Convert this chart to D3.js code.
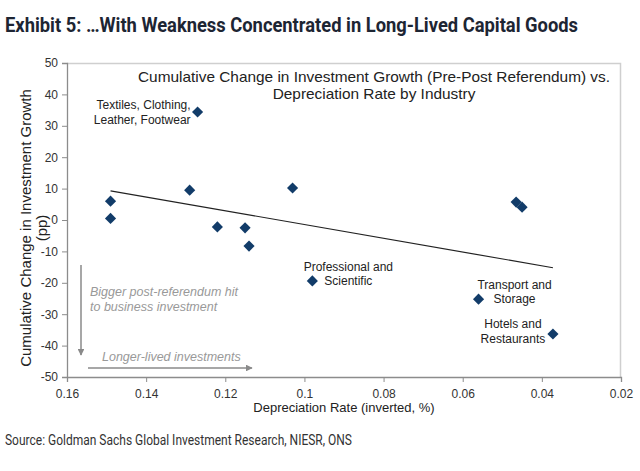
<!DOCTYPE html>
<html>
<head>
<meta charset="utf-8">
<script src="https://cdn.jsdelivr.net/npm/d3@7"></script>
<style>
  body { margin: 0; background: #fff; }
  svg { display: block; }
</style>
</head>
<body>
<div id="chart"></div>
<script>
var width = 640;
var height = 471;

// data
var rates = [0.149, 0.149, 0.129, 0.127, 0.122, 0.115, 0.114, 0.103, 0.098, 0.0465, 0.045, 0.056, 0.0372];
var changes = [6.0, 0.5, 9.5, 34.4, -2.2, -2.5, -8.3, 10.2, -19.4, 5.7, 4.1, -25.2, -36.3];
var trendRates = [0.149, 0.0372];
var trendChanges = [9.3, -15.2];
var xTicks = [0.16, 0.14, 0.12, 0.1, 0.08, 0.06, 0.04, 0.02];
var yTicks = [50, 40, 30, 20, 10, 0, -10, -20, -30, -40, -50];

// labelled points: index into arrays, text lines
var labelIdx = [3, 8, 11, 12];
var labelText = [
    ['Textiles, Clothing,', 'Leather, Footwear'],
    ['Professional and', 'Scientific'],
    ['Transport and', 'Storage'],
    ['Hotels and', 'Restaurants']
];

var margin = { top: 63, right: 19, bottom: 94, left: 67 };
var chartWidth = width - margin.left - margin.right;
var chartHeight = height - margin.top - margin.bottom;

var svg = d3.select('#chart').append('svg')
    .attr('width', width)
    .attr('height', height);

// title and source
svg.append('text')
    .attr('x', 5)
    .attr('y', 32)
    .attr('textLength', 573)
    .attr('lengthAdjust', 'spacingAndGlyphs')
    .style('font-family', '"Liberation Sans Narrow", "Roboto", sans-serif')
    .style('font-weight', 'bold')
    .style('font-size', '20px')
    .attr('fill', '#1d2533')
    .text('Exhibit 5: \u2026With Weakness Concentrated in Long-Lived Capital Goods');

svg.append('text')
    .attr('x', 5)
    .attr('y', 445)
    .attr('textLength', 347)
    .attr('lengthAdjust', 'spacingAndGlyphs')
    .style('font-family', '"Liberation Sans Narrow", "Roboto", sans-serif')
    .style('font-size', '14px')
    .attr('fill', '#333')
    .text('Source: Goldman Sachs Global Investment Research, NIESR, ONS');

var g = svg.append('g')
    .attr('transform', `translate(${margin.left}, ${margin.top})`);

var xScale = d3.scaleLinear()
    .domain([0.16, 0.02])
    .range([0, chartWidth]);

var yScale = d3.scaleLinear()
    .domain([-50, 50])
    .range([chartHeight, 0]);

// top / right frame
g.append('path')
    .attr('d', `M0,0.5H${chartWidth - 0.5}V${chartHeight}`)
    .attr('fill', 'none')
    .attr('stroke', '#cfcfcf')
    .attr('stroke-width', 1.5);

var font = 'Arial, "Liberation Sans", sans-serif';

var xAxis_g = g.append('g')
    .attr('transform', `translate(0, ${chartHeight})`)
    .call(d3.axisBottom(xScale).tickValues(xTicks).tickFormat(d => String(+d.toFixed(2))).tickSizeOuter(0).tickSize(5));

var yAxis_g = g.append('g')
    .call(d3.axisLeft(yScale).tickValues(yTicks).tickFormat(d => String(d)).tickSizeOuter(0).tickSize(5));

[xAxis_g, yAxis_g].forEach(function (ax) {
    ax.select('.domain').attr('stroke', '#8c8c8c').attr('stroke-width', 1.3);
    ax.selectAll('.tick line').attr('stroke', '#8c8c8c');
    ax.selectAll('.tick text')
        .style('font-family', font)
        .style('font-size', '12px')
        .attr('fill', '#333');
});
xAxis_g.selectAll('.tick text').attr('dy', '1.1em');
yAxis_g.selectAll('.tick text').attr('x', -9);

// axis titles
svg.append('text')
    .attr('x', margin.left + chartWidth / 2)
    .attr('y', 412)
    .attr('text-anchor', 'middle')
    .style('font-family', font)
    .style('font-size', '13px')
    .attr('fill', '#222')
    .text('Depreciation Rate (inverted, %)');

var yTitle = svg.append('text')
    .attr('transform', `translate(31, ${margin.top + chartHeight / 2 + 8}) rotate(-90)`)
    .attr('text-anchor', 'middle')
    .style('font-family', font)
    .style('font-size', '15px')
    .attr('fill', '#222');
yTitle.append('tspan').attr('x', 0).attr('y', 0).text('Cumulative Change in Investment Growth');
yTitle.append('tspan').attr('x', 0).attr('y', 16).text('(pp)');

// chart title inside plot, glyphs widened a little like the original
var inner = g.append('text')
    .attr('transform', 'translate(307, 0) scale(1.1, 1)')
    .attr('text-anchor', 'middle')
    .style('font-family', font)
    .style('font-size', '14px')
    .attr('fill', '#222');
inner.append('tspan').attr('x', 0).attr('y', 19).text('Cumulative Change in Investment Growth (Pre-Post Referendum) vs.');
inner.append('tspan').attr('x', 0).attr('y', 36).text('Depreciation Rate by Industry');

// trend line
g.append('line')
    .attr('x1', xScale(trendRates[0]))
    .attr('y1', yScale(trendChanges[0]))
    .attr('x2', xScale(trendRates[1]))
    .attr('y2', yScale(trendChanges[1]))
    .attr('stroke', '#222')
    .attr('stroke-width', 1.2);

// points
var diamond = d3.symbol().type(d3.symbolSquare).size(62);
g.selectAll('path.pt')
    .data(rates)
    .enter()
    .append('path')
    .attr('class', 'pt')
    .attr('d', diamond)
    .attr('transform', (d, i) => `translate(${xScale(d)}, ${yScale(changes[i])}) rotate(45)`)
    .attr('fill', '#123c69');

// point labels (offset from point in px)
var labelDx = [-7, 36, 36, -40];
var labelDy = [-3, -10, -10, -6];
var labelGap = [15, 14, 14, 15];
var labelAnchor = ['end', 'middle', 'middle', 'middle'];
labelIdx.forEach(function (idx, k) {
    var t = g.append('text')
        .attr('text-anchor', labelAnchor[k])
        .style('font-family', font)
        .style('font-size', '12px')
        .attr('fill', '#222');
    var px = xScale(rates[idx]) + labelDx[k];
    var py = yScale(changes[idx]) + labelDy[k];
    labelText[k].forEach(function (line, j) {
        t.append('tspan').attr('x', px).attr('y', py + j * labelGap[k]).text(line);
    });
});

// annotation arrows
var defs = svg.append('defs');
defs.append('marker')
    .attr('id', 'arr')
    .attr('viewBox', '0 0 10 10')
    .attr('refX', 9).attr('refY', 5)
    .attr('markerWidth', 4.5).attr('markerHeight', 4.5)
    .attr('orient', 'auto')
    .append('path')
    .attr('d', 'M0,0L10,5L0,10Z')
    .attr('fill', '#8a8a8a');

g.append('line')
    .attr('x1', 14).attr('y1', 202)
    .attr('x2', 14).attr('y2', 292)
    .attr('stroke', '#8a8a8a').attr('stroke-width', 1.5)
    .attr('marker-end', 'url(#arr)');

g.append('line')
    .attr('x1', 21).attr('y1', 305)
    .attr('x2', 185).attr('y2', 305)
    .attr('stroke', '#8a8a8a').attr('stroke-width', 1.5)
    .attr('marker-end', 'url(#arr)');

var note = g.append('text')
    .style('font-family', font)
    .style('font-size', '12.5px')
    .style('font-style', 'italic')
    .attr('fill', '#999');
note.append('tspan').attr('x', 23).attr('y', 233).text('Bigger post-referendum hit');
note.append('tspan').attr('x', 23).attr('y', 248).text('to business investment');

g.append('text')
    .attr('x', 35).attr('y', 298)
    .style('font-family', font)
    .style('font-size', '12.5px')
    .style('font-style', 'italic')
    .attr('fill', '#999')
    .text('Longer-lived investments');
</script>
</body>
</html>
